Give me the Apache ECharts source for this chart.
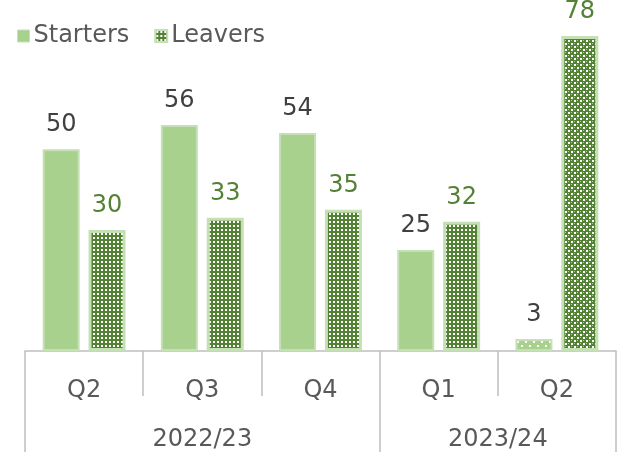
<!DOCTYPE html>
<html>
<head>
<meta charset="utf-8">
<script src="https://cdn.jsdelivr.net/npm/echarts@6/dist/echarts.min.js"></script>
<style>
html,body{margin:0;padding:0;background:#fff;}
#chart{width:619px;height:452px;}
</style>
</head>
<body>
<div id="chart"></div>
<script>
const quarters = ['Q2', 'Q3', 'Q4', 'Q1', 'Q2'];
const years = ['2022/23', '2023/24'];
const yearSpans = [3, 2];
const starters = [50, 56, 54, 25, 3];
const leavers = [30, 33, 35, 32, 78];

const FONT = 'DejaVu Sans';
const LIGHT = '#A9D18E';
const DARK = '#548235';
const EDGE = '#C5E0B4';
const AXIS = '#BFBFBF';

function pattern(w, h, draw) {
  const c = document.createElement('canvas');
  c.width = w; c.height = h;
  const ctx = c.getContext('2d');
  draw(ctx);
  return { image: c, repeat: 'repeat' };
}
const dotsDark = pattern(4, 4, ctx => {
  ctx.fillStyle = DARK; ctx.fillRect(0, 0, 4, 4);
  ctx.fillStyle = '#ffffff'; ctx.fillRect(1, 1, 2, 2);
});
const checker = pattern(6, 6, ctx => {
  ctx.fillStyle = DARK; ctx.fillRect(0, 0, 6, 6);
  ctx.fillStyle = '#ffffff'; ctx.fillRect(1, 1, 2, 2); ctx.fillRect(4, 4, 2, 2);
  ctx.fillStyle = LIGHT; ctx.fillRect(4, 1, 1, 1); ctx.fillRect(1, 4, 1, 1);
});
const dotsLight = pattern(8, 8, ctx => {
  ctx.fillStyle = LIGHT; ctx.fillRect(0, 0, 8, 8);
  ctx.fillStyle = '#ffffff'; ctx.fillRect(1, 1, 2, 2); ctx.fillRect(5, 5, 2, 2);
});

// boundaries & centres of year groups (in category units)
const bounds = [0];
yearSpans.forEach(s => bounds.push(bounds[bounds.length - 1] + s));
const centres = yearSpans.map((s, i) => bounds[i] + s / 2);

const chart = echarts.init(document.getElementById('chart'));
chart.setOption({
  animation: false,
  textStyle: { fontFamily: FONT },
  legend: {
    left: 12, top: 19, itemWidth: 12, itemHeight: 12, itemGap: 25,
    icon: 'rect',
    textStyle: { fontFamily: FONT, fontSize: 24, color: '#595959', padding: [0, 0, 0, -1] },
    data: [
      { name: 'Starters', itemStyle: { color: LIGHT, borderColor: EDGE, borderWidth: 1 } },
      { name: 'Leavers', itemStyle: { color: dotsDark, borderColor: EDGE, borderWidth: 2 } }
    ]
  },
  grid: { left: 25, right: 3, top: 28, bottom: 101 },
  xAxis: [
    {
      type: 'category', data: quarters,
      axisLine: { show: true, lineStyle: { color: AXIS, width: 1.5 } },
      axisTick: { show: true, interval: 0, length: 45, lineStyle: { color: AXIS, width: 1.5 } },
      axisLabel: { fontFamily: FONT, fontSize: 24, color: '#595959', margin: 28 }
    },
    {
      type: 'value', min: 0, max: quarters.length, position: 'bottom', offset: 45,
      axisLine: { show: false },
      splitLine: { show: false },
      axisTick: { show: true, length: 57, customValues: bounds, lineStyle: { color: AXIS, width: 1.5 } },
      axisLabel: {
        customValues: centres, fontFamily: FONT, fontSize: 24, color: '#595959', margin: 32,
        formatter: v => years[centres.indexOf(v)] || ''
      }
    }
  ],
  yAxis: { type: 'value', min: 0, max: 80, show: false, splitLine: { show: false } },
  series: [
    {
      name: 'Starters', type: 'bar', xAxisIndex: 0, barWidth: 37, barGap: '24%',
      itemStyle: { color: LIGHT, borderColor: EDGE, borderWidth: 2 },
      label: { show: true, position: 'top', distance: 12, fontFamily: FONT, fontSize: 24, color: '#404040' },
      data: starters.map((v, i) => i === 4 ? { value: v, itemStyle: { color: dotsLight } } : v)
    },
    {
      name: 'Leavers', type: 'bar', xAxisIndex: 0, barWidth: 37, barGap: '24%',
      itemStyle: { color: dotsDark, borderColor: EDGE, borderWidth: 3 },
      label: { show: true, position: 'top', distance: 12, fontFamily: FONT, fontSize: 24, color: DARK },
      data: leavers.map((v, i) => i === 4 ? { value: v, itemStyle: { color: checker } } : v)
    }
  ]
});
</script>
</body>
</html>
